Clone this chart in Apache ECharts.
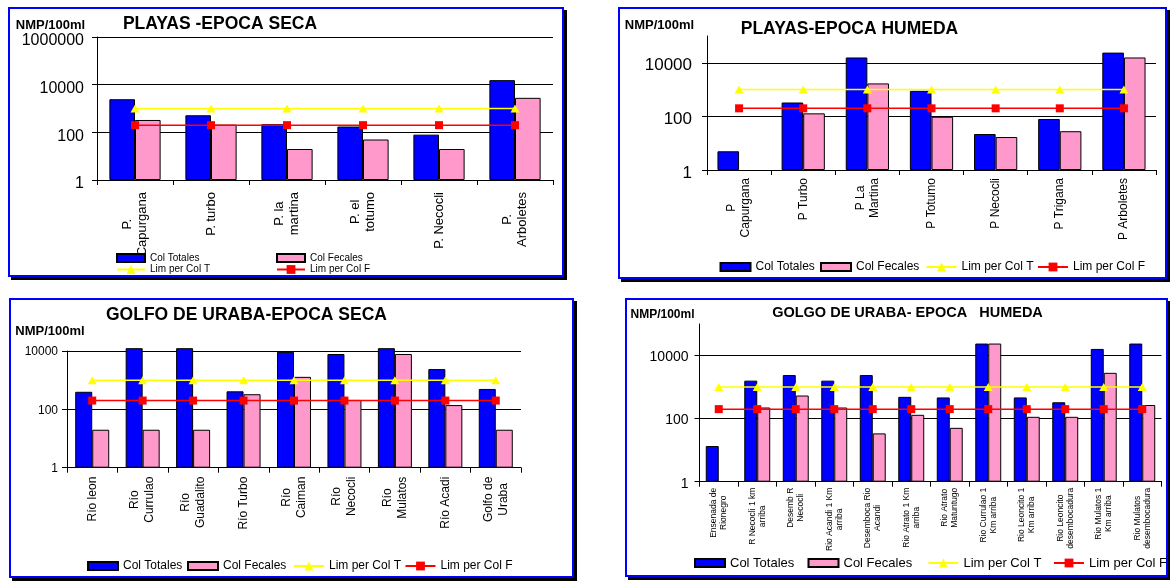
<!DOCTYPE html>
<html>
<head>
<meta charset="utf-8">
<script src="https://cdn.jsdelivr.net/npm/echarts@6/dist/echarts.min.js"></script>
<style>
  body { margin:0; background:#fff; }
  .panel { position:absolute; }
</style>
</head>
<body>
<div id="c1" class="panel" style="left:8px;top:7px;width:560px;height:274px"></div>
<div id="c2" class="panel" style="left:618px;top:7px;width:553px;height:276px"></div>
<div id="c3" class="panel" style="left:9px;top:298px;width:569px;height:284px"></div>
<div id="c4" class="panel" style="left:625px;top:298px;width:547px;height:283px"></div>
<script>
// ---- data ----
var catPlayasSeca = ['P.\nCapurgana', 'P. turbo', 'P. la\nmartina', 'P. el\ntotumo', 'P. Necocli', 'P.\nArboletes'];
var totPlayasSeca = [2450, 520, 220, 175, 80, 15500];
var fecPlayasSeca = [330, 210, 20, 50, 20, 2800];
var limTPlayasSeca = [1000, 1000, 1000, 1000, 1000, 1000];
var limFPlayasSeca = [200, 200, 200, 200, 200, 200];

var catPlayasHumeda = ['P\nCapurgana', 'P Turbo', 'P La\nMartina', 'P Totumo', 'P Necocli', 'P Trigana', 'P Arboletes'];
var totPlayasHumeda = [5, 330, 15800, 900, 22, 80, 24000];
var fecPlayasHumeda = [null, 130, 1700, 97, 17, 28, 15800];
var limTPlayasHumeda = [1000, 1000, 1000, 1000, 1000, 1000, 1000];
var limFPlayasHumeda = [200, 200, 200, 200, 200, 200, 200];

var catGolfoSeca = ['Río leon', 'Río\nCurrulao', 'Río\nGuadalito', 'Río Turbo', 'Río\nCaiman', 'Río\nNecocli', 'Río\nMulatos', 'Río Acadi', 'Golfo de\nUraba'];
var totGolfoSeca = [400, 12500, 12500, 415, 9300, 7900, 12500, 2400, 500];
var fecGolfoSeca = [20, 20, 20, 330, 1300, 210, 7900, 140, 20];
var limTGolfoSeca = [1000, 1000, 1000, 1000, 1000, 1000, 1000, 1000, 1000];
var limFGolfoSeca = [200, 200, 200, 200, 200, 200, 200, 200, 200];

var catGolfoHumeda = ['Ensenada de\nRionegro', 'R Necocli 1 km\narriba', 'Desemb R\nNecocli', 'Rio Acandi 1 Km\narriba', 'Desemboca Rio\nAcandi', 'Rio Atrato 1 Km\narriba', 'Rio Atrato\nMatuntugo', 'Rio Currulao 1\nKm arriba', 'Rio Leoncito 1\nKm arriba', 'Rio Leoncito\ndesembocadura', 'Rio Mulatos 1\nKm arriba', 'Rio Mulatos\ndesembocadura'];
var totGolfoHumeda = [13.5, 1600, 2400, 1600, 2400, 490, 470, 24000, 470, 330, 16200, 24000];
var fecGolfoHumeda = [null, 225, 540, 225, 34, 132, 51, 24000, 114, 114, 2830, 270];
var limTGolfoHumeda = [1000, 1000, 1000, 1000, 1000, 1000, 1000, 1000, 1000, 1000, 1000, 1000];
var limFGolfoHumeda = [200, 200, 200, 200, 200, 200, 200, 200, 200, 200, 200, 200];

var FONT = "'Liberation Sans', Arial, sans-serif";
var NAMES = ['Col Totales', 'Col Fecales', 'Lim per Col T', 'Lim per Col F'];

function makeChart(id, option){
  var myChart = echarts.init(document.getElementById(id));
  myChart.setOption(option);
}

// blue frame + black drop shadow
function frame(w, h){
  return [
    {type:'rect', silent:true, shape:{x:w, y:3, width:3, height:h}, style:{fill:'#000'}},
    {type:'rect', silent:true, shape:{x:3, y:h, width:w, height:3}, style:{fill:'#000'}},
    {type:'rect', silent:true, shape:{x:1, y:1, width:w-2, height:h-2}, style:{fill:'none', stroke:'#0000ff', lineWidth:2}}
  ];
}

function label(text, x, y, size){
  return {type:'text', silent:true, x:x, y:y, style:{text:text, textAlign:'center', textVerticalAlign:'middle',
    font:'bold ' + size + 'px ' + FONT, fill:'#000'}};
}

// one legend per item, so every entry sits where it does in the picture
function legends(lefts, centers, size, iw){
  return NAMES.map(function(name, i){
    var isLine = i > 1;
    var ih = isLine ? 11 : 8;
    return {left:lefts[i], top:centers[i] - Math.max(ih, size) / 2, padding:0,
      itemWidth:iw, itemHeight:ih, textStyle:{fontSize:size, color:'#000'},
      data:[isLine ? name : {name:name, icon:'rect'}]};
  });
}

function makeOption(p){
  return {
    animation:false,
    textStyle:{fontFamily:FONT},
    graphic:frame(p.w, p.h).concat([
      label('NMP/100ml', p.unit[0], p.unit[1], p.unit[2]),
      label(p.title, p.head[0], p.head[1], p.head[2])
    ]),
    legend:p.legend,
    grid:{left:p.grid[0], top:p.grid[1], width:p.grid[2], height:p.grid[3], containLabel:false, outerBoundsMode:'none'},
    xAxis:{
      type:'category',
      data:p.cats,
      axisLine:{show:true, lineStyle:{color:'#000', width:1}},
      axisTick:{show:true, interval:0, length:5, lineStyle:{color:'#000'}},
      axisLabel:{
        interval:0, rotate:90, margin:p.xMargin, color:'#000', fontSize:p.xFont,
        formatter:function(v){
          return v.split('\n').map(function(s){ return '{c|' + s + '}'; }).join('\n');
        },
        rich:{c:{align:'center', fontSize:p.xFont, lineHeight:p.xLine, color:'#000', fontFamily:FONT}}
      },
      splitLine:{show:false}
    },
    yAxis:{
      type:'log',
      logBase:100,
      min:1,
      max:p.max,
      axisLine:{show:true, lineStyle:{color:'#000', width:1}},
      axisTick:{show:true, length:5, lineStyle:{color:'#000'}},
      axisLabel:{color:'#000', margin:p.yMargin, showMaxLabel:p.showMax,
        formatter:function(v){ return '{n|' + Math.round(v) + '}'; },
        rich:{n:{fontSize:p.yFont, color:'#000', fontFamily:FONT, padding:[p.yPad, 0, 0, 0]}}},
      splitLine:{show:true, showMaxLine:p.showMax, lineStyle:{color:'#000', width:1}},
      minorTick:{show:false},
      minorSplitLine:{show:false}
    },
    series:[
      {name:'Col Totales', type:'bar', data:p.tot, barWidth:'33.7%', barGap:'0%', clip:false,
        itemStyle:{color:'#0000ff', borderColor:'#000', borderWidth:1}},
      {name:'Col Fecales', type:'bar', data:p.fec, barWidth:'33.7%', barGap:'0%', clip:false,
        itemStyle:{color:'#ff99cc', borderColor:'#000', borderWidth:1}},
      {name:'Lim per Col T', type:'line', data:p.limT, symbol:'triangle', symbolSize:[9, 8],
        itemStyle:{color:'#ffff00'}, lineStyle:{color:'#ffff00', width:1.5}},
      {name:'Lim per Col F', type:'line', data:p.limF, symbol:'rect', symbolSize:8,
        itemStyle:{color:'#ff0000'}, lineStyle:{color:'#ff0000', width:1.5}}
    ]
  };
}

makeChart('c1', makeOption({
  w:556, h:270, title:'PLAYAS -EPOCA SECA',
  unit:[42.5, 18, 13], head:[212, 17, 17.5],
  grid:[89, 30, 456, 143],
  cats:catPlayasSeca, tot:totPlayasSeca, fec:fecPlayasSeca, limT:limTPlayasSeca, limF:limFPlayasSeca,
  max:1000000, showMax:true,
  yFont:16, yMargin:13, yPad:8,
  xFont:13, xLine:15, xMargin:12,
  legend:legends([108, 268, 108, 268], [251, 251, 263, 263], 10, 28)
}));

makeChart('c2', makeOption({
  w:549, h:272, title:'PLAYAS-EPOCA HUMEDA',
  unit:[41.5, 18, 13], head:[231.5, 22, 17.5],
  grid:[89, 29, 449, 134],
  cats:catPlayasHumeda, tot:totPlayasHumeda, fec:fecPlayasHumeda, limT:limTPlayasHumeda, limF:limFPlayasHumeda,
  max:100000, showMax:false,
  yFont:17, yMargin:15, yPad:6,
  xFont:12, xLine:14, xMargin:8,
  legend:legends([101.5, 202, 307.5, 419], [260, 260, 260, 260], 12, 30)
}));

makeChart('c3', makeOption({
  w:565, h:280, title:'GOLFO DE URABA-EPOCA SECA',
  unit:[41, 33.7, 13], head:[237.5, 17, 17.5],
  grid:[58, 53, 454, 116.7],
  cats:catGolfoSeca, tot:totGolfoSeca, fec:fecGolfoSeca, limT:limTGolfoSeca, limF:limFGolfoSeca,
  max:10000, showMax:true,
  yFont:12, yMargin:9, yPad:2,
  xFont:12, xLine:15, xMargin:9,
  legend:legends([78, 178, 284, 395.5], [268, 268, 268, 268], 12, 30)
}));

makeChart('c4', makeOption({
  w:543, h:279, title:'GOLGO DE URABA- EPOCA   HUMEDA',
  unit:[37.5, 17, 12], head:[282.5, 15, 14.5],
  grid:[74.5, 26, 462, 157.7],
  cats:catGolfoHumeda, tot:totGolfoHumeda, fec:fecGolfoHumeda, limT:limTGolfoHumeda, limF:limFGolfoHumeda,
  max:100000, showMax:false,
  yFont:14, yMargin:11, yPad:4,
  xFont:8.5, xLine:10, xMargin:6,
  legend:legends([69, 182.5, 302.4, 428], [265, 265, 265, 265], 13, 30)
}));
</script>
</body>
</html>
